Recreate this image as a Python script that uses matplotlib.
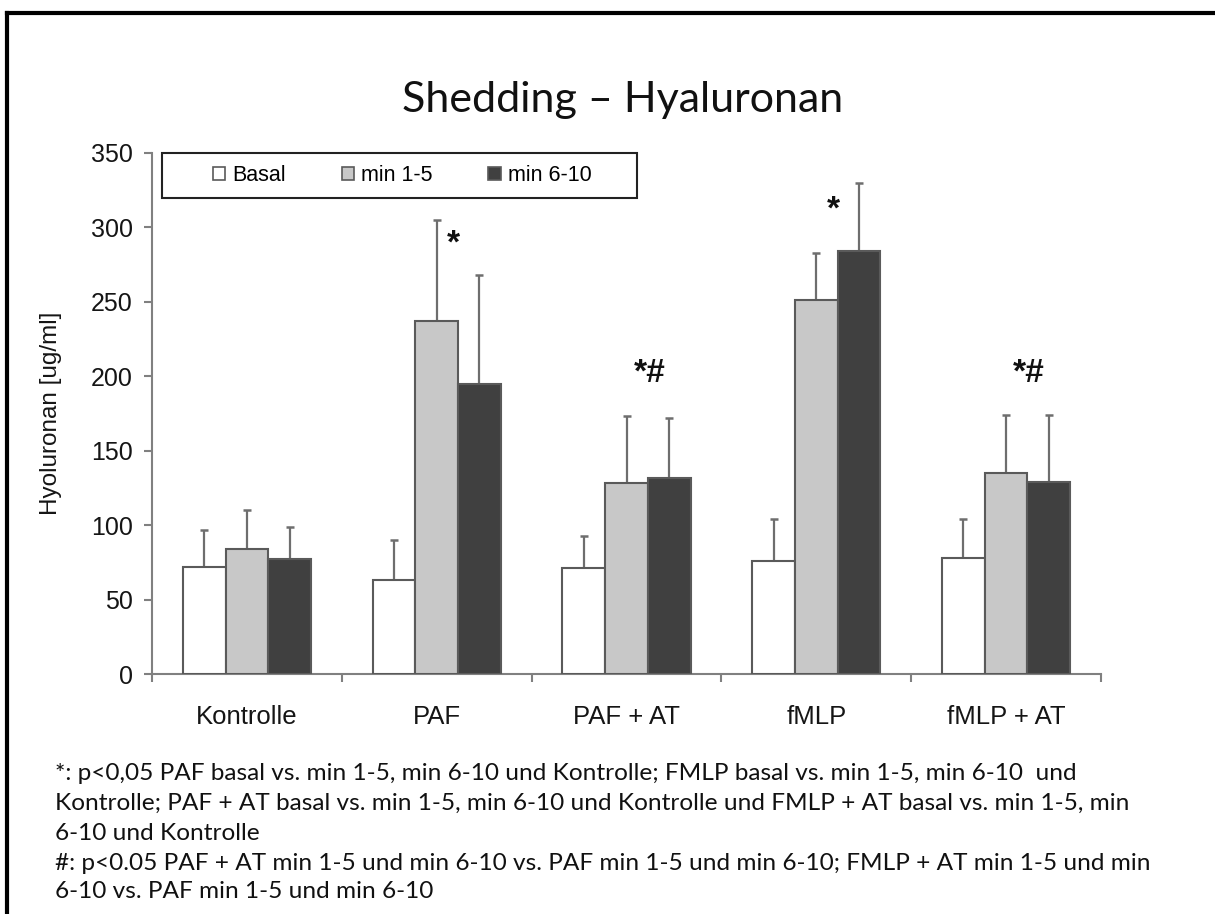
import numpy as np
import matplotlib.pyplot as plt
from matplotlib.patches import Patch, Rectangle
from matplotlib.lines import Line2D

# values
groups = ['Kontrolle', 'PAF', 'PAF + AT', 'fMLP', 'fMLP + AT']
series = ['Basal', 'min 1-5', 'min 6-10']
basal = [72, 63, 71, 76, 78]
min_1_5 = [84, 237, 128, 251, 135]
min_6_10 = [77, 195, 132, 284, 129]
basal_err = [25, 27, 22, 28, 26]
min_1_5_err = [26, 68, 45, 32, 39]
min_6_10_err = [22, 73, 40, 46, 45]

# significance marks: label, group, value
sig_labels = ['*', '*#', '*', '*#']
sig_group = [1, 2, 3, 4]
sig_value = [289, 202, 312, 202]

footnote = [
    '*: p<0,05 PAF basal vs. min 1-5, min 6-10 und Kontrolle; FMLP basal vs. min 1-5, min 6-10  und',
    'Kontrolle; PAF + AT basal vs. min 1-5, min 6-10 und Kontrolle und FMLP + AT basal vs. min 1-5, min',
    '6-10 und Kontrolle',
    '#: p<0.05 PAF + AT min 1-5 und min 6-10 vs. PAF min 1-5 und min 6-10; FMLP + AT min 1-5 und min',
    '6-10 vs. PAF min 1-5 und min 6-10',
]

colors = ['#ffffff', '#c8c8c8', '#404040']
edge = '#5a5a5a'
W, H = 1215, 914

plt.rcParams['font.family'] = ['Liberation Sans', 'DejaVu Sans']

fig = plt.figure(figsize=(W / 100, H / 100), dpi=100)
ax = fig.add_axes([152 / W, 1 - 674 / H, 949 / W, 521 / H])

x = np.arange(len(groups))
bw = 0.225
data = [basal, min_1_5, min_6_10]
errs = [basal_err, min_1_5_err, min_6_10_err]
for i, (vals, err) in enumerate(zip(data, errs)):
    pos = x + (i - 1) * bw
    ax.bar(pos, vals, bw, color=colors[i], edgecolor=edge, linewidth=1.5, zorder=3)
    ax.errorbar(pos, vals, yerr=[np.zeros(len(vals)), err], fmt='none',
                ecolor='#6e6e6e', elinewidth=1.6, capsize=3, capthick=1.8, zorder=2)

for lab, g, v in zip(sig_labels, sig_group, sig_value):
    off = 0.09 if lab == '*' else 0.12
    ax.text(g + off, v, lab, ha='center', va='center', fontsize=24,
            fontweight='bold', color='#111111')

ax.set_xlim(-0.5, len(groups) - 0.5)
ax.set_ylim(0, 350)
ax.set_yticks(np.arange(0, 351, 50))
ax.set_xticks(x)
ax.set_xticklabels(groups)
ax.set_xticks(np.arange(-0.5, len(groups), 1), minor=True)
ax.tick_params(axis='x', which='major', length=0, pad=22, labelsize=18.5, labelcolor='#151515')
ax.tick_params(axis='x', which='minor', length=6, width=1.5, color='#808080', direction='out')
ax.tick_params(axis='y', length=6, width=1.5, color='#808080', direction='out', pad=8,
               labelsize=18, labelcolor='#151515')
for s in ['top', 'right']:
    ax.spines[s].set_visible(False)
for s in ['left', 'bottom']:
    ax.spines[s].set_color('#808080')
    ax.spines[s].set_linewidth(1.5)

ax.set_ylabel('Hyoluronan [ug/ml]', fontsize=17.5, color='#151515')
ax.yaxis.set_label_coords(-0.095, 0.5)

# legend box
ax.add_patch(Rectangle((10 / 949, 1 - 45 / 521), 475 / 949, 45 / 521, transform=ax.transAxes,
                       facecolor='white', edgecolor='#222222', linewidth=1.5, clip_on=False, zorder=4))
handles = [Patch(facecolor=c, edgecolor=edge, linewidth=1.2) for c in colors]
ax.legend(handles, series, loc='center', bbox_to_anchor=(250 / 949, 1 - 22.5 / 521),
          ncol=3, frameon=False, fontsize=15.5, handlelength=0.6, handleheight=0.6,
          handletextpad=0.3, columnspacing=2.6).set_zorder(5)

fig.text(623 / W, 1 - 100 / H, 'Shedding \u2013 Hyaluronan', ha='center', va='center',
         fontsize=31, family=['Lato', 'DejaVu Sans'], color='#111111')

line_y = [774, 803, 833, 863, 892]
for txt, yy in zip(footnote, line_y):
    fig.text(55 / W, 1 - yy / H, txt, ha='left', va='center', fontsize=17.6,
             family=['Lato', 'DejaVu Sans'], color='#111111')

# page frame (only top and left edge visible)
fig.add_artist(Line2D([7 / W, 7 / W], [0, 1 - 13 / H], color='black', linewidth=3))
fig.add_artist(Line2D([7 / W, 1], [1 - 13 / H, 1 - 13 / H], color='black', linewidth=3))

fig.savefig('out.png', dpi=100, facecolor='white')
